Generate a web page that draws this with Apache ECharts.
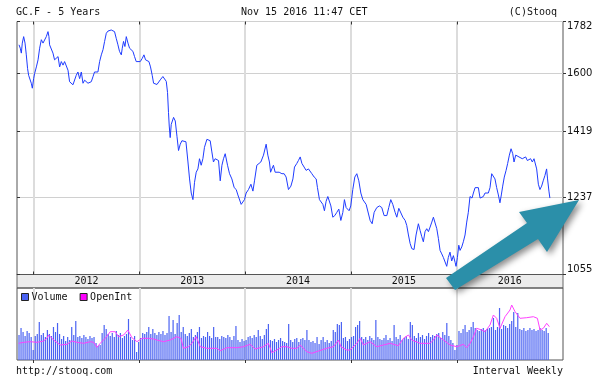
<!DOCTYPE html>
<html><head><meta charset="utf-8">
<script src="https://cdn.jsdelivr.net/npm/echarts@6/dist/echarts.min.js"></script>
<style>html,body{margin:0;padding:0;background:#fff}#c{width:614px;height:383px}</style>
</head><body><div id="c"></div>
<script>
// ---- data (decimal years, USD/oz) ----
const priceYears = [
2011.862,2011.874,2011.884,2011.893,2011.906,2011.919,2011.931,2011.943,2011.953,2011.969,2011.978,2011.988,
2012.000,2012.009,2012.026,2012.042,2012.057,2012.073,2012.089,2012.104,2012.120,2012.136,2012.145,2012.151,
2012.167,2012.183,2012.198,2012.214,2012.231,2012.246,2012.262,2012.278,2012.293,2012.309,2012.325,2012.340,
2012.356,2012.372,2012.387,2012.403,2012.419,2012.435,2012.451,2012.467,2012.482,2012.498,2012.514,2012.529,
2012.545,2012.561,2012.576,2012.592,2012.608,2012.624,2012.640,2012.656,2012.671,2012.687,2012.703,2012.718,
2012.734,2012.750,2012.765,2012.781,2012.797,2012.812,2012.829,2012.838,2012.850,2012.863,2012.876,2012.892,
2012.907,2012.923,2012.939,2012.954,2012.970,2012.986,2013.008,2013.027,2013.043,2013.058,2013.074,2013.090,
2013.105,2013.121,2013.134,2013.147,2013.166,2013.197,2013.222,2013.254,2013.266,2013.275,2013.282,2013.291,
2013.301,2013.323,2013.339,2013.355,2013.370,2013.386,2013.402,2013.417,2013.440,2013.459,2013.474,2013.490,
2013.506,2013.521,2013.537,2013.553,2013.568,2013.584,2013.600,2013.615,2013.638,2013.669,2013.685,2013.700,
2013.716,2013.733,2013.748,2013.764,2013.780,2013.795,2013.811,2013.833,2013.852,2013.874,2013.896,2013.915,
2013.931,2013.946,2013.962,2013.978,2013.993,2014.009,2014.031,2014.054,2014.073,2014.088,2014.110,2014.126,
2014.148,2014.173,2014.198,2014.214,2014.229,2014.240,2014.252,2014.267,2014.283,2014.299,2014.321,2014.347,
2014.368,2014.387,2014.409,2014.432,2014.451,2014.466,2014.488,2014.503,2014.520,2014.536,2014.557,2014.576,
2014.598,2014.614,2014.630,2014.652,2014.671,2014.683,2014.702,2014.718,2014.734,2014.749,2014.765,2014.781,
2014.796,2014.810,2014.828,2014.847,2014.866,2014.885,2014.904,2014.923,2014.938,2014.954,2014.966,2014.982,
2014.998,2015.017,2015.036,2015.055,2015.074,2015.093,2015.112,2015.127,2015.143,2015.159,2015.181,2015.200,
2015.219,2015.244,2015.269,2015.291,2015.313,2015.339,2015.357,2015.376,2015.395,2015.417,2015.433,2015.452,
2015.464,2015.490,2015.512,2015.527,2015.543,2015.559,2015.575,2015.596,2015.615,2015.637,2015.653,2015.669,
2015.684,2015.700,2015.716,2015.732,2015.748,2015.764,2015.779,2015.795,2015.811,2015.826,2015.842,2015.858,
2015.873,2015.889,2015.905,2015.920,2015.936,2015.952,2015.968,2015.984,2015.993,2016.006,2016.019,2016.031,
2016.047,2016.062,2016.078,2016.094,2016.109,2016.125,2016.138,2016.144,2016.157,2016.173,2016.189,2016.204,
2016.220,2016.236,2016.251,2016.267,2016.283,2016.298,2016.314,2016.330,2016.346,2016.361,2016.377,2016.393,
2016.408,2016.421,2016.434,2016.449,2016.466,2016.481,2016.497,2016.513,2016.529,2016.541,2016.557,2016.572,
2016.588,2016.604,2016.619,2016.635,2016.651,2016.667,2016.683,2016.698,2016.714,2016.730,2016.739,2016.755,
2016.771,2016.786,2016.802,2016.817,2016.833,2016.849,2016.858,2016.871,2016.880];
const priceValues = [
1698,1686,1669,1704,1727,1704,1663,1616,1594,1589,1568,1552,
1583,1599,1622,1646,1686,1716,1704,1710,1727,1745,1727,1698,
1692,1669,1646,1646,1657,1622,1640,1628,1640,1646,1611,1573,
1578,1563,1563,1594,1605,1583,1605,1568,1578,1573,1568,1573,
1573,1589,1605,1599,1605,1640,1663,1681,1710,1739,1747,1751,
1751,1754,1745,1721,1698,1675,1663,1686,1710,1692,1727,1704,
1686,1681,1675,1657,1640,1637,1640,1651,1663,1646,1646,1640,
1622,1594,1568,1565,1564,1579,1590,1574,1538,1476,1435,1401,
1440,1461,1450,1405,1364,1382,1392,1387,1389,1332,1286,1249,
1232,1277,1304,1313,1341,1323,1341,1373,1396,1392,1360,1332,
1341,1341,1336,1281,1323,1341,1355,1323,1300,1286,1263,1258,
1244,1240,1220,1216,1232,1249,1258,1272,1254,1281,1323,1328,
1332,1351,1382,1351,1332,1304,1313,1323,1304,1309,1304,1300,
1300,1291,1258,1267,1286,1318,1328,1336,1346,1328,1318,1309,
1313,1313,1300,1291,1286,1263,1232,1228,1220,1204,1228,1240,
1244,1216,1188,1192,1200,1208,1180,1200,1232,1212,1208,1204,
1216,1258,1291,1300,1281,1249,1232,1228,1220,1216,1180,1172,
1200,1212,1216,1212,1192,1192,1212,1232,1220,1200,1188,1210,
1212,1188,1180,1168,1145,1125,1113,1111,1145,1172,1156,1141,
1129,1153,1160,1153,1164,1176,1188,1184,1160,1137,1109,1101,
1093,1089,1073,1093,1105,1085,1097,1082,1073,1093,1121,1109,
1117,1129,1145,1176,1200,1240,1244,1236,1249,1263,1263,1263,
1236,1232,1240,1249,1244,1249,1263,1300,1295,1286,1263,1244,
1224,1244,1267,1291,1309,1328,1351,1369,1355,1332,1351,1355,
1346,1351,1341,1336,1346,1336,1332,1341,1332,1341,1336,1313,
1272,1258,1267,1281,1295,1313,1286,1254,1236];

// weekly volume bars (first week at volStartYear, one bar per week)
const volStartYear = 2011.862;
const volumeValues = [
250,320,280,240,290,270,230,100,240,260,
380,250,270,230,300,260,240,330,280,370,
260,210,240,190,230,200,330,250,390,230,
240,220,250,230,210,240,220,230,170,140,
150,270,350,310,260,240,270,230,290,250,
270,220,240,260,410,230,200,240,80,180,
220,270,260,280,330,260,310,270,250,280,
260,290,250,270,440,280,400,260,370,450,
280,330,260,240,270,310,230,250,280,330,
220,240,230,280,240,220,330,230,230,210,
240,230,220,250,230,200,240,340,200,180,
210,190,200,230,240,220,250,230,300,240,
210,250,310,360,200,190,210,180,200,220,
190,180,170,360,200,180,210,220,180,210,
220,200,300,200,180,190,170,230,160,200,
230,180,200,170,190,300,280,360,350,380,
220,230,190,210,230,240,330,350,390,230,
210,230,200,240,220,200,400,230,210,200,
220,250,200,220,190,350,230,210,250,200,
220,240,210,380,350,240,220,270,230,250,
210,240,270,230,250,240,260,270,220,280,
250,370,240,200,170,100,150,290,270,310,
350,280,300,330,380,320,300,290,310,320,
300,310,320,330,420,300,330,520,310,350,
340,320,360,390,480,330,470,310,300,320,
290,300,320,300,310,290,300,320,300,290,
320,270];

const oiYears = [
2011.859,2011.906,2011.969,2012.032,2012.095,2012.126,2012.142,2012.189,2012.252,2012.315,2012.362,2012.410,
2012.473,2012.536,2012.567,2012.599,2012.630,2012.677,2012.725,2012.772,2012.803,2012.851,2012.891,2012.929,
2012.977,2013.024,2013.087,2013.134,2013.165,2013.228,2013.291,2013.354,2013.392,2013.417,2013.465,2013.496,
2013.537,2013.575,2013.638,2013.732,2013.764,2013.827,2013.921,2013.984,2014.047,2014.094,2014.173,2014.220,
2014.252,2014.299,2014.346,2014.394,2014.441,2014.488,2014.520,2014.582,2014.630,2014.693,2014.771,2014.834,
2014.882,2014.904,2014.960,2014.992,2015.055,2015.086,2015.118,2015.149,2015.181,2015.244,2015.307,2015.370,
2015.448,2015.496,2015.543,2015.574,2015.653,2015.748,2015.779,2015.811,2015.874,2015.937,2016.000,2016.063,
2016.094,2016.126,2016.157,2016.188,2016.236,2016.267,2016.314,2016.346,2016.377,2016.409,2016.456,2016.503,
2016.519,2016.551,2016.598,2016.661,2016.724,2016.762,2016.787,2016.818,2016.850,2016.875];
const oiValues = [
167,177,183,177,190,217,250,200,150,157,190,177,
167,183,177,127,167,217,283,283,233,250,300,223,
183,217,217,210,200,183,200,233,217,117,133,167,
233,133,117,117,93,123,123,133,157,110,133,167,
73,100,133,133,117,117,150,83,67,90,117,133,
200,133,100,100,167,217,150,167,183,133,150,167,
143,217,250,200,167,167,200,250,200,150,133,157,
123,167,233,317,300,283,350,450,417,317,433,500,
550,483,417,423,433,417,300,317,367,333];

const yTicks = [1055, 1237, 1419, 1600, 1782];
const yearTicks = [2012, 2013, 2014, 2015, 2016];
const yearLabelPos = [2012.5, 2013.5, 2014.5, 2015.5, 2016.5];

// ---- chart ----
const mono = 'DejaVu Sans Mono';
const xMin = 2011.843, xMax = 2017.004;
const chart = echarts.init(document.getElementById('c'), null, {renderer: 'canvas'});
const tickStyle = {color: '#333', width: 1};
chart.setOption({
  animation: false,
  backgroundColor: '#fff',
  grid: [
    {left: 17, right: 51, top: 21.5, bottom: 108.5, show: true, borderColor: '#555', borderWidth: 1},
    {left: 17, right: 51, top: 288, bottom: 23, show: true, borderColor: '#555', borderWidth: 1}
  ],
  xAxis: [
    {type: 'value', gridIndex: 0, min: xMin, max: xMax, position: 'bottom',
     axisLine: {show: true, lineStyle: {color: '#555'}},
     axisTick: {show: true, inside: true, length: 3, customValues: yearTicks, lineStyle: tickStyle},
     splitLine: {show: true, lineStyle: {color: '#dcdcdc', width: 2}},
     axisLabel: {customValues: yearLabelPos, formatter: v => String(Math.floor(v)), margin: 2,
                 fontFamily: mono, fontSize: 10, color: '#111'}},
    {type: 'value', gridIndex: 0, min: xMin, max: xMax, position: 'top',
     axisLine: {show: false},
     axisTick: {show: true, inside: true, length: 3, customValues: yearTicks, lineStyle: tickStyle},
     splitLine: {show: false}, axisLabel: {show: false}},
    {type: 'value', gridIndex: 1, min: xMin, max: xMax, position: 'top',
     axisLine: {show: false},
     axisTick: {show: true, inside: true, length: 3, customValues: yearTicks, lineStyle: tickStyle},
     splitLine: {show: true, lineStyle: {color: '#dcdcdc', width: 2}}, axisLabel: {show: false}}
  ],
  yAxis: [
    {type: 'log', gridIndex: 0, position: 'right', min: 1054.99, max: 1782.01,
     axisLine: {show: false},
     axisTick: {show: true, length: 3, customValues: yTicks, lineStyle: tickStyle},
     splitLine: {show: true, lineStyle: {color: '#d0d0d0', width: 1}},
     axisLabel: {customValues: yTicks, formatter: v => String(Math.round(v)), margin: 4,
                 fontFamily: 'DejaVu Sans', fontSize: 10, color: '#111',
                 verticalAlignMinLabel: 'bottom', verticalAlignMaxLabel: 'top'}},
    {type: 'log', gridIndex: 0, position: 'left', min: 1054.99, max: 1782.01,
     axisLine: {show: false},
     axisTick: {show: true, inside: true, length: 3, customValues: yTicks, lineStyle: tickStyle},
     splitLine: {show: false}, axisLabel: {show: false}},
    {type: 'value', gridIndex: 1, min: 0, max: 720, show: false},
    {type: 'value', gridIndex: 1, min: 0, max: 720, show: false}
  ],
  legend: {
    data: ['Volume', 'OpenInt'], left: 21, top: 292, icon: 'rect', itemWidth: 7, itemHeight: 7,
    itemGap: 12, padding: 0, selectedMode: false,
    itemStyle: {borderColor: '#222', borderWidth: 1},
    textStyle: {fontFamily: mono, fontSize: 10, color: '#111', padding: [0, 0, 0, -2]}
  },
  series: [
    {type: 'line', name: 'GC.F', xAxisIndex: 0, yAxisIndex: 0, symbol: 'none', z: 5,
     data: priceYears.map((y, i) => [y, priceValues[i]]),
     lineStyle: {color: '#1f3cff', width: 1}, itemStyle: {color: '#1f3cff'}},
    {type: 'bar', name: 'Volume', xAxisIndex: 2, yAxisIndex: 2, barWidth: 1.2,
     data: volumeValues.map((v, i) => [volStartYear + i * 7 / 365.25, v]),
     itemStyle: {color: '#4a62f2'}},
    {type: 'line', name: 'OpenInt', xAxisIndex: 2, yAxisIndex: 3, symbol: 'none', z: 5,
     data: oiYears.map((y, i) => [y, oiValues[i]]),
     lineStyle: {color: '#ff40ff', width: 1}, itemStyle: {color: '#ff00ff'}}
  ],
  graphic: [
    {type: 'rect', z: -1, shape: {x: 17, y: 274.5, width: 546, height: 13.5},
     style: {fill: '#ececec', stroke: '#666', lineWidth: 1}},
    {type: 'text', x: 16, y: 12, style: {text: 'GC.F - 5 Years', font: '10px "DejaVu Sans Mono"', fill: '#111', verticalAlign: 'middle'}},
    {type: 'text', x: 241, y: 12, style: {text: 'Nov 15 2016 11:47 CET', font: '10px "DejaVu Sans Mono"', fill: '#111', verticalAlign: 'middle'}},
    {type: 'text', x: 557, y: 12, style: {text: '(C)Stooq', font: '10px "DejaVu Sans Mono"', fill: '#111', align: 'right', verticalAlign: 'middle'}},
    {type: 'text', x: 16, y: 371, style: {text: 'http://stooq.com', font: '10px "DejaVu Sans Mono"', fill: '#111', verticalAlign: 'middle'}},
    {type: 'text', x: 563, y: 371, style: {text: 'Interval Weekly', font: '10px "DejaVu Sans Mono"', fill: '#111', align: 'right', verticalAlign: 'middle'}},
    {type: 'polygon', z: 100,
     shape: {points: [[446, 278], [527, 223], [519, 212], [579, 200], [547, 252], [538, 239], [455, 290]]},
     style: {fill: '#2b8fa9', shadowBlur: 6, shadowOffsetX: 3, shadowOffsetY: 3, shadowColor: 'rgba(0,0,0,0.45)'}}
  ]
});
</script></body></html>
